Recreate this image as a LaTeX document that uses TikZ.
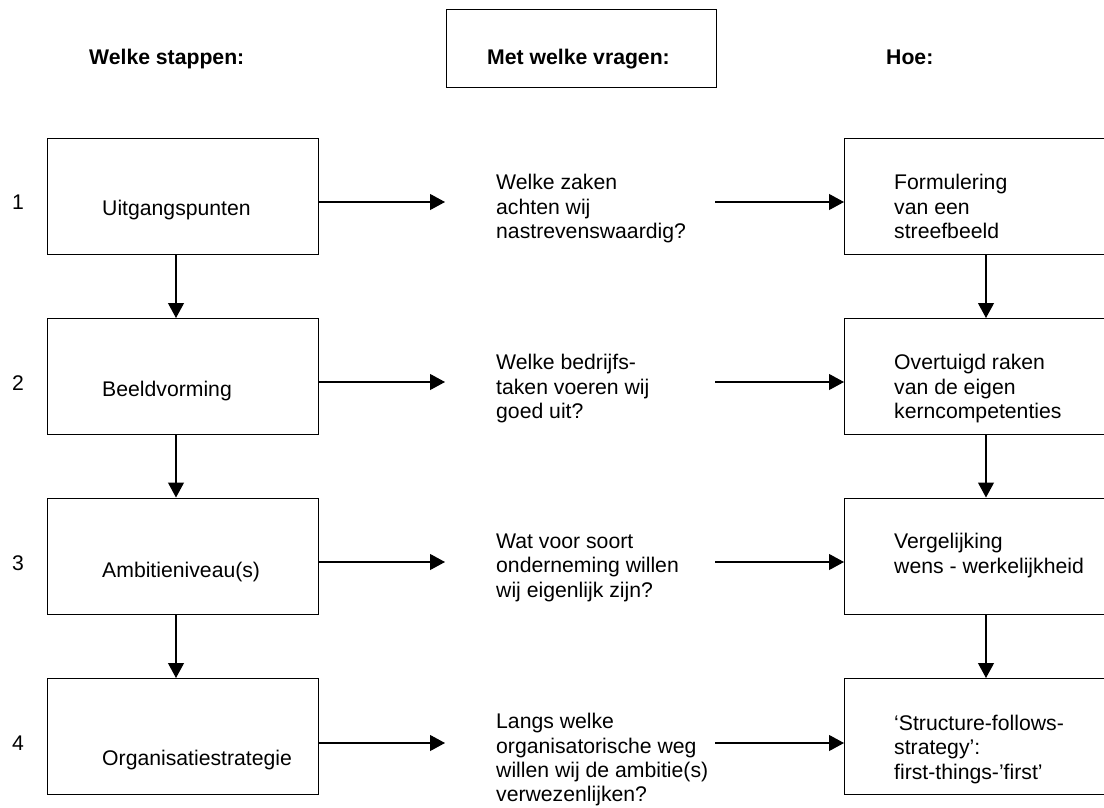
\documentclass[tikz,border=0pt]{standalone}
\usepackage{fontspec}
\setmainfont{Liberation Sans}
\usetikzlibrary{arrows.meta}
\newcommand{\fl}{\rule{0pt}{16pt}}
\begin{document}
\begin{tikzpicture}[x=1pt,y=-1pt,
  box/.style={draw=black, line width=1.1pt, minimum width=271pt, minimum height=116pt, inner sep=0pt, anchor=north west},
  hbox/.style={draw=black, line width=1.1pt, minimum width=270pt, minimum height=78pt, inner sep=0pt, anchor=north west},
  lbl/.style={inner sep=0pt, anchor=base west, font=\fontsize{21.2pt}{24.6pt}\selectfont},
  num/.style={inner sep=0pt, anchor=base, font=\fontsize{21.2pt}{24.6pt}\selectfont},
  head/.style={inner sep=0pt, anchor=base west, font=\fontsize{21.2pt}{24.6pt}\selectfont\bfseries},
  multi/.style={inner sep=0pt, anchor=north west, align=left, font=\fontsize{21.2pt}{24.6pt}\selectfont},
  arr/.style={line width=1.1pt, -{Triangle[length=15pt,width=16pt]}}]
\useasboundingbox (0,0) rectangle (1104,807);
\fill[white] (0,0) rectangle (1104,807);
\clip (0,0) rectangle (1104,807);

% headers
\node[head] (hs) at (89,64) {Welke stappen:};
\node[hbox] (hb) at (446,9) {};
\node[head] (hv) at (487,64) {Met welke vragen:};
\node[head] (hh) at (886,64) {Hoe:};

% left column boxes
\node[box] (L1) at (47,138) {};
\node[box] (L2) at (47,318) {};
\node[box] (L3) at (47,497.5) {};
\node[box] (L4) at (47,678) {};
\node[lbl] (l1) at (102,215) {Uitgangspunten};
\node[lbl] (l2) at (102,396) {Beeldvorming};
\node[lbl] (l3) at (102,577) {Ambitieniveau(s)};
\node[lbl] (l4) at (102,765) {Organisatiestrategie};

% numbers
\node[num] (n1) at (18,209.5) {1};
\node[num] (n2) at (18,390) {2};
\node[num] (n3) at (18,570) {3};
\node[num] (n4) at (18,750) {4};

% right column boxes
\node[box, minimum width=270pt] (R1) at (844,138) {};
\node[box, minimum width=270pt] (R2) at (844,318) {};
\node[box, minimum width=270pt] (R3) at (844,497.5) {};
\node[box, minimum width=270pt] (R4) at (844,678) {};
\node[multi] (h1) at (894,173.5) {\fl Formulering\\van een\\streefbeeld};
\node[multi] (h2) at (894,353.5) {\fl Overtuigd raken\\van de eigen\\kerncompetenties};
\node[multi] (h3) at (894,532.5) {\fl Vergelijking\\wens - werkelijkheid};
\node[multi] (h4) at (894,714) {\fl ‘Structure-follows-\\strategy’:\\first-things-’first’};

% middle questions
\node[multi] (q1) at (496,173.5) {\fl Welke zaken\\achten wij\\nastrevenswaardig?};
\node[multi] (q2) at (496,353.5) {\fl Welke bedrijfs-\\taken voeren wij\\goed uit?};
\node[multi] (q3) at (496,532) {\fl Wat voor soort\\onderneming willen\\wij eigenlijk zijn?};
\node[multi, font=\fontsize{21.2pt}{24.3pt}\selectfont] (q4) at (496,712.5) {\fl Langs welke\\organisatorische weg\\willen wij de ambitie(s)\\verwezenlijken?};

% arrow end/start coordinates
\coordinate (t1) at (445,202);
\coordinate (t2) at (445,382);
\coordinate (t3) at (445,562);
\coordinate (t4) at (445,743);
\coordinate (s1) at (715,202);
\coordinate (s2) at (715,382);
\coordinate (s3) at (715,562);
\coordinate (s4) at (715,743);
\coordinate (vl) at (176,0);
\coordinate (vr) at (986,0);

% horizontal arrows
\foreach \i in {1,2,3,4}{
  \draw[arr] (L\i.east |- t\i) -- (t\i);
  \draw[arr] (s\i) -- (R\i.west |- s\i);
}

% vertical arrows
\draw[arr] (vl |- L1.south) -- (vl |- L2.north);
\draw[arr] (vl |- L2.south) -- (vl |- L3.north);
\draw[arr] (vl |- L3.south) -- (vl |- L4.north);
\draw[arr] (vr |- R1.south) -- (vr |- R2.north);
\draw[arr] (vr |- R2.south) -- (vr |- R3.north);
\draw[arr] (vr |- R3.south) -- (vr |- R4.north);
\end{tikzpicture}
\end{document}
